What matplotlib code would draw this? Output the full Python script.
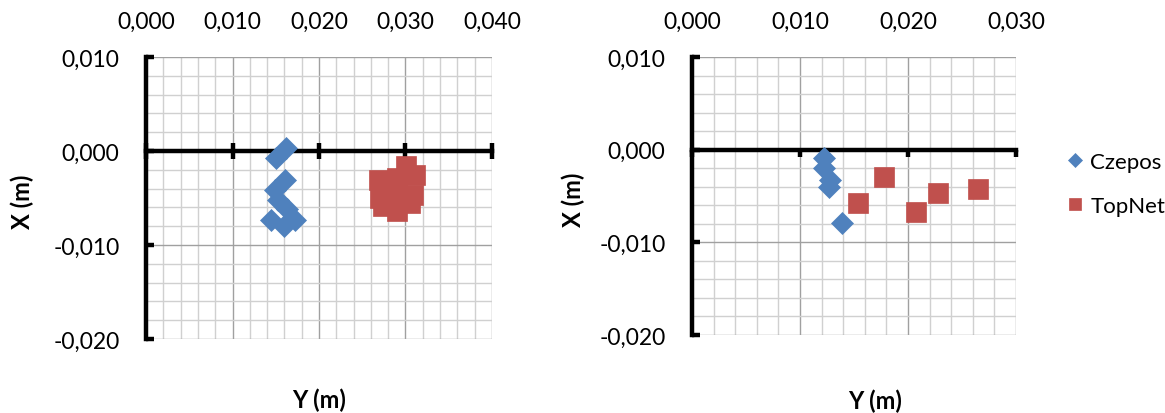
import matplotlib
matplotlib.use("Agg")
import matplotlib.pyplot as plt
from matplotlib.ticker import MultipleLocator, FuncFormatter

# Czepos / TopNet position differences, left and right sessions (metres)
left_czepos_y = [0.0162, 0.0150, 0.0161, 0.0149, 0.0153, 0.0163, 0.0172, 0.0145, 0.0159]
left_czepos_x = [0.0003, -0.0007, -0.0031, -0.0041, -0.0052, -0.0062, -0.0073, -0.0073, -0.0080]
left_topnet_y = [0.0301, 0.0311, 0.0269, 0.0290, 0.0271, 0.0290, 0.0309, 0.0274, 0.0290, 0.0305]
left_topnet_x = [-0.0016, -0.0025, -0.0031, -0.0029, -0.0050, -0.0045, -0.0047, -0.0059, -0.0064, -0.0055]

right_czepos_y = [0.0122, 0.0122, 0.0128, 0.0127, 0.0139]
right_czepos_x = [-0.0009, -0.0020, -0.0033, -0.0040, -0.0079]
right_topnet_y = [0.0178, 0.0154, 0.0207, 0.0228, 0.0265]
right_topnet_x = [-0.0030, -0.0058, -0.0067, -0.0047, -0.0042]

y_ticks_left = [0.0, 0.010, 0.020, 0.030, 0.040]
y_ticks_right = [0.0, 0.010, 0.020, 0.030]
x_ticks = [-0.020, -0.010, 0.0, 0.010]

BLUE = "#4F81BD"
RED = "#C0504D"
plt.rcParams["font.family"] = ["Lato", "DejaVu Sans"]


def comma(v, pos=None):
    if abs(v) < 1e-12:
        v = 0.0
    return f"{v:.3f}".replace(".", ",")


def style_axes(ax, yticks, tick_dir, tick_len):
    ax.set_xlim(yticks[0], yticks[-1])
    ax.set_ylim(x_ticks[0], x_ticks[-1])
    ax.set_xticks(yticks)
    ax.set_yticks(x_ticks)
    ax.xaxis.set_minor_locator(MultipleLocator(0.002))
    ax.yaxis.set_minor_locator(MultipleLocator(0.002))
    ax.set_axisbelow(True)
    ax.grid(which="minor", color="#d0d0d0", lw=1.0)
    ax.grid(which="major", color="#a0a0a0", lw=1.0)

    for s in ("top", "right"):
        ax.spines[s].set_visible(False)
    ax.spines["left"].set_linewidth(3.2)
    ax.spines["bottom"].set_position(("data", 0))
    ax.spines["bottom"].set_linewidth(3.2)

    ax.tick_params(axis="x", which="major", direction=tick_dir, length=tick_len,
                   width=3.2, labelbottom=False)
    ax.tick_params(axis="y", which="major", direction="in", length=6, width=3.2,
                   pad=19, labelsize=16.5, colors="black")
    ax.tick_params(which="minor", length=0)
    ax.yaxis.set_major_formatter(FuncFormatter(comma))

    top = ax.secondary_xaxis("top")
    top.set_xticks(yticks)
    top.xaxis.set_major_formatter(FuncFormatter(comma))
    top.tick_params(length=0, pad=18, labelsize=16.5)
    top.spines["top"].set_visible(False)


fig = plt.figure(figsize=(11.65, 4.14), dpi=100)
ax1 = fig.add_axes([146 / 1165, 1 - 340 / 414, 346 / 1165, 282 / 414])
ax2 = fig.add_axes([692 / 1165, 1 - 336 / 414, 324 / 1165, 278 / 414])

style_axes(ax1, y_ticks_left, "inout", 12)
style_axes(ax2, y_ticks_right, "out", 5)

mk = dict(ls="none", clip_on=False, zorder=3)
for ax, cy, cx, ty, tx in [
    (ax1, left_czepos_y, left_czepos_x, left_topnet_y, left_topnet_x),
    (ax2, right_czepos_y, right_czepos_x, right_topnet_y, right_topnet_x),
]:
    ax.plot(cy, cx, marker="D", ms=11.5, color=BLUE, mec=BLUE, mew=0.5,
            label="Czepos", **mk)
    ax.plot(ty, tx, marker="s", ms=14, color=RED, mec=RED, mew=0.5,
            label="TopNet", **mk)

lab = dict(ha="center", va="center", fontsize=17, fontweight="bold")
ax1.text(0.5, -0.213, "Y (m)", transform=ax1.transAxes, **lab)
ax1.text(-0.358, 0.489, "X (m)", transform=ax1.transAxes, rotation=90, **lab)
ax2.text(0.565, -0.234, "Y (m)", transform=ax2.transAxes, **lab)
ax2.text(-0.367, 0.489, "X (m)", transform=ax2.transAxes, rotation=90, **lab)

ax2.legend(loc="center left", bbox_to_anchor=(1056 / 1165, 1 - 185 / 414),
           bbox_transform=fig.transFigure, frameon=False, fontsize=16,
           markerscale=0.65, handlelength=0.7, handletextpad=0.35,
           labelspacing=1.1, borderpad=0)

fig.savefig("out.png", dpi=100)
